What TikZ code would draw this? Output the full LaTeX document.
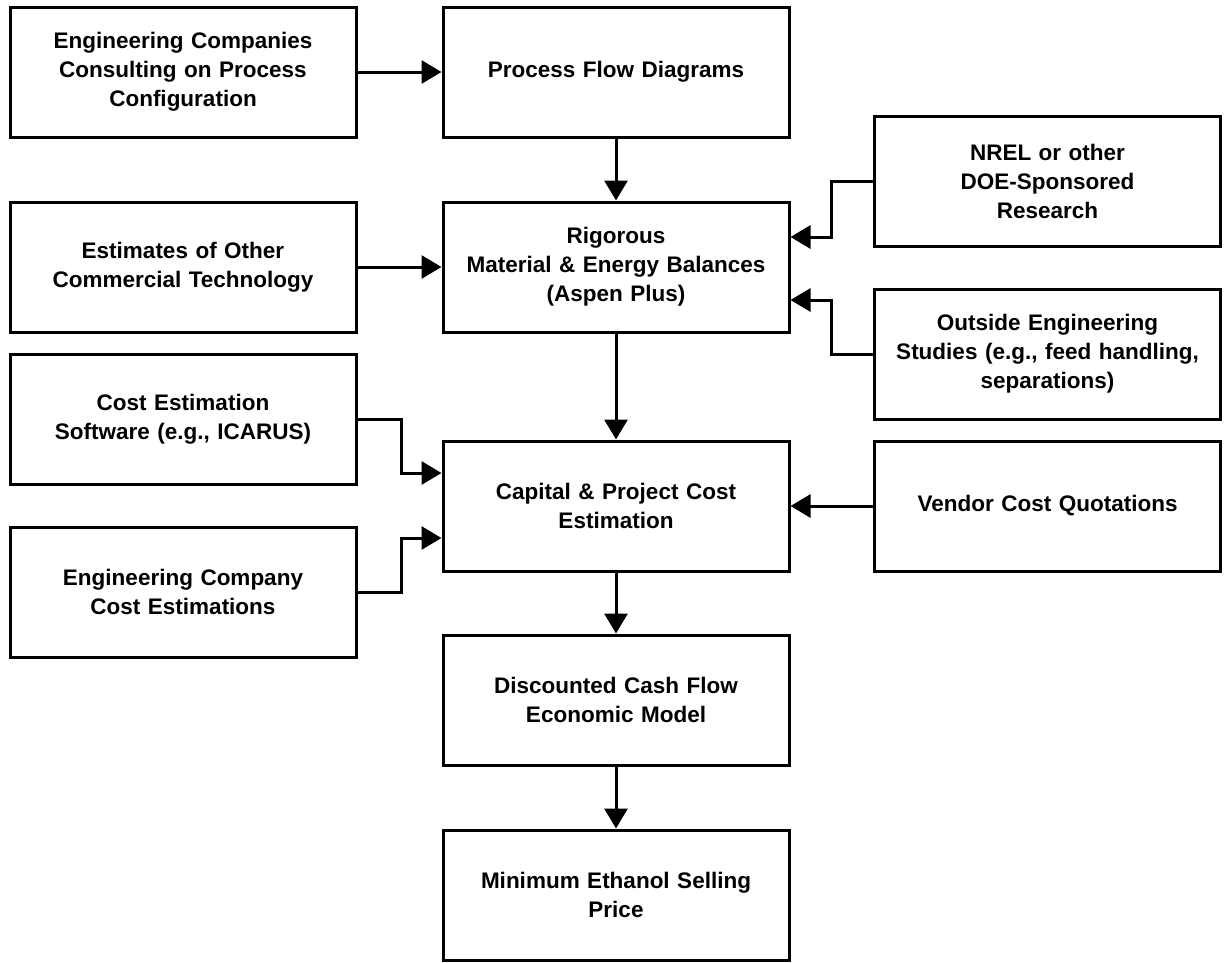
\documentclass[tikz,border=0pt]{standalone}
\usepackage{fontspec}
\setmainfont{Liberation Sans}
\usetikzlibrary{arrows.meta,calc}
\newcommand\boxfont{\fontsize{22.5}{29}\selectfont\bfseries\spaceskip=7.5pt plus 1pt\relax}
\begin{document}
\begin{tikzpicture}[
  x=1pt,y=-1pt,
  box/.style={draw=black,line width=3pt,minimum width=346pt,minimum height=130pt,
    inner sep=0pt,align=center,font=\boxfont},
  arr/.style={line width=3pt,-{Triangle[length=20pt,width=23pt]}}
]
\useasboundingbox (0,0) rectangle (1224,962);
\node[box] (eng)  at (183,72)    {Engineering Companies\\Consulting on Process\\Configuration};
\node[box] (pfd)  at (616,72)    {Process Flow Diagrams};
\node[box] (nrel) at (1047.5,181) {NREL or other\\DOE-Sponsored\\Research};
\node[box] (est)  at (183,267)   {Estimates of Other\\Commercial Technology};
\node[box] (rig)  at (616,267)   {Rigorous\\Material \& Energy Balances\\(Aspen Plus)};
\node[box] (out)  at (1047.5,354) {Outside Engineering\\Studies (e.g., feed handling,\\separations)};
\node[box] (ces)  at (183,419)   {Cost Estimation\\Software (e.g., ICARUS)};
\node[box] (cap)  at (616,506)   {Capital \& Project Cost\\Estimation};
\node[box] (ven)  at (1047.5,506) {Vendor Cost Quotations};
\node[box] (ecc)  at (183,592)   {Engineering Company\\Cost Estimations};
\node[box] (dcf)  at (616,700)   {Discounted Cash Flow\\Economic Model};
\node[box] (min)  at (616,895)   {Minimum Ethanol Selling\\Price};

\coordinate (rigA) at ($(rig.east)+(0,-30)$);
\coordinate (rigB) at ($(rig.east)+(0,33)$);
\coordinate (capA) at ($(cap.west)+(0,-33)$);
\coordinate (capB) at ($(cap.west)+(0,32)$);

\draw[arr] (eng) -- (pfd);
\draw[arr] (pfd) -- (rig);
\draw[arr] (est) -- (rig);
\draw[arr] (nrel.west) -- ++(-42,0) |- (rigA);
\draw[arr] (out.west) -- ++(-42,0) |- (rigB);
\draw[arr] (rig) -- (cap);
\draw[arr] (ces.east) -- ++(44,0) |- (capA);
\draw[arr] (ecc.east) -- ++(44,0) |- (capB);
\draw[arr] (ven) -- (cap);
\draw[arr] (cap) -- (dcf);
\draw[arr] (dcf) -- (min);
\end{tikzpicture}
\end{document}
